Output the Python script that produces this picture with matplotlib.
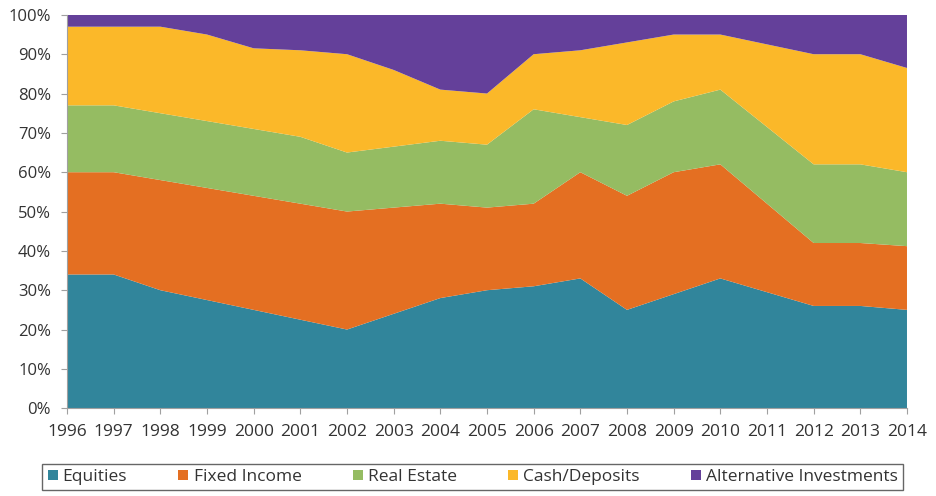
import matplotlib.pyplot as plt
from matplotlib.patches import Patch
from matplotlib.ticker import FuncFormatter

years = list(range(1996, 2015))
equities = [34, 34, 30, 27.5, 25, 22.5, 20, 24, 28, 30, 31, 33, 25, 29, 33, 29.5, 26, 26, 25]
fixed_income = [26, 26, 28, 28.5, 29, 29.5, 30, 27, 24, 21, 21, 27, 29, 31, 29, 22.5, 16, 16, 16.2]
real_estate = [17, 17, 17, 17, 17, 17, 15, 15.5, 16, 16, 24, 14, 18, 18, 19, 19.5, 20, 20, 18.8]
cash = [20, 20, 22, 22, 20.5, 22, 25, 19.5, 13, 13, 14, 17, 21, 17, 14, 21, 28, 28, 26.5]
alternative = [3, 3, 3, 5, 8.5, 9, 10, 14, 19, 20, 10, 9, 7, 5, 5, 7.5, 10, 10, 13.5]

names = ["Equities", "Fixed Income", "Real Estate", "Cash/Deposits", "Alternative Investments"]
colors = ["#31859b", "#e46f22", "#95bc62", "#fbb829", "#64409a"]

plt.rcParams['font.family'] = ['Open Sans', 'DejaVu Sans']

fig = plt.figure(figsize=(9.36, 4.96), dpi=100)
ax = fig.add_axes([0.0716, 0.177, 0.8974, 0.793])

ax.stackplot(years, equities, fixed_income, real_estate, cash, alternative,
             colors=colors, linewidth=0)

ax.set_xlim(1996, 2014)
ax.set_ylim(0, 100)
ax.set_xticks(years)
ax.set_yticks(range(0, 101, 10))
ax.yaxis.set_major_formatter(FuncFormatter(lambda v, p: "%d%%" % v))
ax.tick_params(axis='both', colors='#333333', length=4.5, color='#a0a0a0')
ax.tick_params(axis='x', labelsize=12.5, pad=7)
ax.tick_params(axis='y', labelsize=12, pad=7)
for s in ['top', 'right']:
    ax.spines[s].set_visible(False)
for s in ['left', 'bottom']:
    ax.spines[s].set_color('#a0a0a0')

handles = [Patch(facecolor=c, edgecolor='none') for c in colors]
leg = fig.legend(handles, names, loc='center', bbox_to_anchor=(0.505, 0.038), ncol=5,
                 fontsize=12.5, frameon=True, fancybox=False, handlelength=0.57,
                 handleheight=0.57, handletextpad=0.3, columnspacing=2.95,
                 borderpad=0.3, borderaxespad=0)
leg.get_frame().set_edgecolor('#404040')
leg.get_frame().set_linewidth(1.0)
for t in leg.get_texts():
    t.set_color('#333333')

fig.savefig("out.png", dpi=100)
